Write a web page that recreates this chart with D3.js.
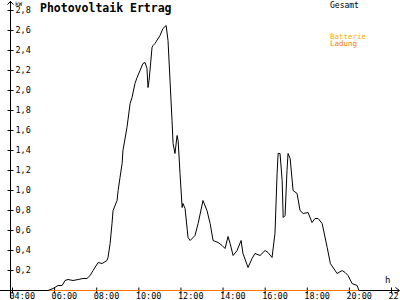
<!DOCTYPE html>
<html>
<head>
<meta charset="utf-8">
<script src="https://cdn.jsdelivr.net/npm/d3@7"></script>
<style>
  body { margin: 0; background: #fff; }
  svg { display: block; font-family: "DejaVu Sans Mono", monospace; }
</style>
</head>
<body>
<svg id="chart" width="400" height="300"></svg>
<script>
// Gesamt (kW) over hour of day
const hours = [5.71, 5.95, 6.19, 6.38, 6.52, 6.66, 6.90, 7.14, 7.37, 7.56, 7.71, 7.85, 8.09, 8.28, 8.51, 8.56,
  8.66, 8.75, 8.80, 8.99, 9.04, 9.13, 9.23, 9.27, 9.46, 9.61, 9.70, 9.84, 9.94, 10.08, 10.22, 10.32,
  10.41, 10.46, 10.51, 10.65, 10.70, 10.79, 11.03, 11.17, 11.32, 11.41, 11.60, 11.65, 11.74, 11.84,
  11.89, 11.98, 12.08, 12.12, 12.22, 12.36, 12.46, 12.60, 12.69, 12.84, 13.07, 13.26, 13.41, 13.55,
  13.79, 13.98, 14.12, 14.26, 14.36, 14.50, 14.69, 14.88, 14.97, 15.21, 15.40, 15.54, 15.78, 16.02,
  16.16, 16.35, 16.49, 16.59, 16.64, 16.73, 16.83, 16.88, 16.97, 17.06, 17.11, 17.21, 17.35, 17.54,
  17.68, 17.83, 18.06, 18.25, 18.39, 18.54, 18.73, 18.97, 19.12, 19.44, 19.68, 19.82, 19.96, 20.15,
  20.39, 20.48];
const gesamt = [0, 0.02, 0.05, 0.05, 0.10, 0.11, 0.10, 0.11, 0.12, 0.12, 0.15, 0.20, 0.28, 0.27, 0.30, 0.33,
  0.47, 0.67, 0.80, 0.90, 1.00, 1.13, 1.27, 1.40, 1.63, 1.87, 1.93, 2.07, 2.13, 2.20, 2.27, 2.28,
  2.22, 2.03, 2.10, 2.43, 2.45, 2.47, 2.55, 2.62, 2.65, 2.50, 1.70, 1.47, 1.37, 1.55,
  1.50, 1.17, 0.83, 0.87, 0.82, 0.53, 0.50, 0.53, 0.55, 0.67, 0.90, 0.80, 0.67, 0.50,
  0.48, 0.45, 0.42, 0.54, 0.47, 0.35, 0.40, 0.50, 0.37, 0.23, 0.32, 0.37, 0.35, 0.40,
  0.38, 0.33, 0.57, 1.17, 1.37, 1.37, 1.10, 0.73, 0.75, 1.20, 1.37, 1.32, 1.00, 0.97,
  0.80, 0.77, 0.78, 0.68, 0.72, 0.72, 0.67, 0.43, 0.27, 0.17, 0.20, 0.18, 0.15, 0.07,
  0.05, 0];
// battery series: flat zero over the same span
const batHours = [5.71, 20.48];
const batterie = [0, 0];
const ladung = [0, 0];

const xTicks = [4, 6, 8, 10, 12, 14, 16, 18, 20, 22];
const xTickLabels = ["04:00", "06:00", "08:00", "10:00", "12:00", "14:00", "16:00", "18:00", "20:00", "22:00"];
const yTicks = [0.2, 0.4, 0.6, 0.8, 1.0, 1.2, 1.4, 1.6, 1.8, 2.0, 2.2, 2.4, 2.6, 2.8];

const svg = d3.select("#chart");

const x = d3.scaleLinear().domain([4, 22]).range([12, 391]);
const y = d3.scaleLinear().domain([0, 2.8]).range([290, 10]);

// x axis
const xAxis = svg.append("g")
    .attr("transform", "translate(0,290.5)")
    .call(d3.axisBottom(x).tickValues(xTicks).tickSize(3).tickFormat((d, i) => xTickLabels[i]));
xAxis.select(".domain").remove();
xAxis.selectAll(".tick line").attr("y1", -3).attr("y2", 3).attr("stroke", "#000");
xAxis.selectAll(".tick text")
    .attr("text-anchor", "start").attr("x", -3).attr("y", 8).attr("dy", 0)
    .attr("font-size", 8.5).attr("font-family", "DejaVu Sans Mono").attr("fill", "#000");
svg.append("line").attr("x1", 0).attr("x2", 399).attr("y1", 290.5).attr("y2", 290.5).attr("stroke", "#000");
svg.append("path").attr("d", "M395.5,287.5L399.5,290.5L395.5,293.5").attr("fill", "none").attr("stroke", "#000");
svg.append("text").attr("x", 385).attr("y", 283).attr("font-size", 9).text("h");

// y axis
const yAxis = svg.append("g")
    .attr("transform", "translate(10.5,0)")
    .call(d3.axisLeft(y).tickValues(yTicks).tickSize(3).tickFormat(d => d3.format(".1f")(d).replace(".", ",")));
yAxis.select(".domain").remove();
yAxis.selectAll(".tick line").attr("x1", -3).attr("x2", 3).attr("stroke", "#000");
yAxis.selectAll(".tick text")
    .attr("text-anchor", "start").attr("x", 5).attr("dy", "0.35em")
    .attr("font-size", 8.5).attr("font-family", "DejaVu Sans Mono").attr("fill", "#000");
svg.append("line").attr("x1", 10.5).attr("x2", 10.5).attr("y1", 1).attr("y2", 298).attr("stroke", "#000");
svg.append("path").attr("d", "M7.5,4.5L10.5,1.5L13.5,4.5").attr("fill", "none").attr("stroke", "#000");
svg.append("text").attr("x", 15).attr("y", 6).attr("font-size", 6).text("kW");

// title
svg.append("text").attr("x", 40).attr("y", 12)
    .attr("font-size", 11.5).attr("font-weight", "bold").text("Photovoltaik Ertrag");

// legend
svg.append("text").attr("x", 330).attr("y", 8).attr("font-size", 8).attr("fill", "#000").text("Gesamt");
svg.append("text").attr("x", 330).attr("y", 38.5).attr("font-size", 7.5).attr("fill", "#ffaa00").text("Batterie");
svg.append("text").attr("x", 330).attr("y", 46).attr("font-size", 7.5).attr("fill", "#ff7700").text("Ladung");

// series
const plot = svg.append("g").attr("transform", "translate(0,0.5)");
const line = d3.line().x(d => x(d[0])).y(d => y(d[1]));
plot.append("path")
    .attr("d", line(batHours.map((h, i) => [h, batterie[i]])))
    .attr("fill", "none").attr("stroke", "#ffaa00").attr("stroke-width", 1);
plot.append("path")
    .attr("d", line(batHours.map((h, i) => [h, ladung[i]])))
    .attr("fill", "none").attr("stroke", "#ff7700").attr("stroke-width", 1);
plot.append("path")
    .attr("d", line(hours.map((h, i) => [h, gesamt[i]])))
    .attr("fill", "none").attr("stroke", "#000").attr("stroke-width", 1);
</script>
</body>
</html>
